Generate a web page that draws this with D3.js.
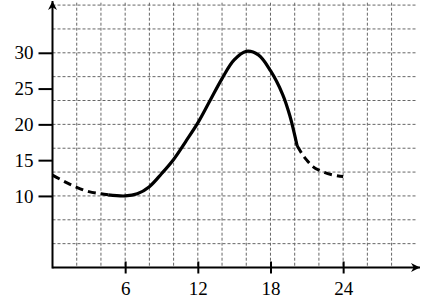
<!DOCTYPE html>
<meta charset="utf-8">
<script src="https://d3js.org/d3.v7.min.js"></script>
<style>
  body { margin: 0; background: #fff; }
</style>
<body>
<div id="chart"></div>
</body>
<script>
// curve pieces
var leftX  = [0, 1, 2, 3, 4, 4.6];
var leftY  = [12.9, 12.0, 11.2, 10.6, 10.3, 10.15];
var solidX = [4.6, 6, 7, 8, 9, 10, 11, 12, 13, 14, 15, 16, 17, 18, 19, 19.6, 20.2];
var solidY = [10.15, 10.0, 10.3, 11.3, 13.1, 15.1, 17.6, 20.2, 23.3, 26.4, 29.0, 30.2, 29.7, 27.5, 24.2, 21.2, 17.0];
var rightX = [20.2, 20.6, 21, 21.5, 22, 23, 24];
var rightY = [17.0, 15.9, 15.0, 14.1, 13.6, 13.0, 12.7];

var xTicks = [6, 12, 18, 24];
var yTicks = [10, 15, 20, 25, 30];

var width = 441, height = 297;
var serif = "'Liberation Serif', 'DejaVu Serif', serif";

var svg = d3.select("#chart").append("svg")
    .attr("width", width)
    .attr("height", height);

var x = d3.scaleLinear().domain([0, 30]).range([52.5, 415.8]);
var y = d3.scaleLinear().domain([0, 37]).range([267.5, 2.7]);

// grid: every 2 on x, every 10/3 on y (square cells)
var gx = d3.range(2, 29, 2);
var gy = d3.range(1, 12).map(function(k) { return k * 10 / 3; });

svg.append("g").selectAll("line")
    .data(gx).enter().append("line")
    .attr("x1", function(d) { return x(d); })
    .attr("x2", function(d) { return x(d); })
    .attr("y1", y(37)).attr("y2", y(0))
    .attr("stroke", "#666").attr("stroke-width", 1)
    .attr("stroke-dasharray", "3,2");

svg.append("g").selectAll("line")
    .data(gy).enter().append("line")
    .attr("x1", x(0)).attr("x2", x(30))
    .attr("y1", function(d) { return y(d); })
    .attr("y2", function(d) { return y(d); })
    .attr("stroke", "#666").attr("stroke-width", 1)
    .attr("stroke-dasharray", "3,2");

// arrow heads
svg.append("defs").append("marker")
    .attr("id", "arrow")
    .attr("viewBox", "0 0 10 10")
    .attr("refX", 10).attr("refY", 5)
    .attr("markerWidth", 9).attr("markerHeight", 9)
    .attr("markerUnits", "userSpaceOnUse")
    .attr("orient", "auto")
  .append("path")
    .attr("d", "M0,0 L10,5 L0,10 L3,5 Z")
    .attr("fill", "#000");

// axes lines
svg.append("line")
    .attr("x1", x(0)).attr("x2", 420)
    .attr("y1", y(0)).attr("y2", y(0))
    .attr("stroke", "#000").attr("stroke-width", 2)
    .attr("marker-end", "url(#arrow)");
svg.append("line")
    .attr("x1", x(0)).attr("x2", x(0))
    .attr("y1", y(0) + 1).attr("y2", 1)
    .attr("stroke", "#000").attr("stroke-width", 2)
    .attr("marker-end", "url(#arrow)");

// y ticks + labels
var yAxis = svg.append("g")
    .attr("transform", "translate(" + x(0) + ",0)")
    .call(d3.axisLeft(y).tickValues(yTicks).tickSize(14).tickPadding(5).tickSizeOuter(0));
yAxis.select(".domain").remove();
yAxis.selectAll("line").attr("stroke", "#000").attr("stroke-width", 2);
yAxis.selectAll("text")
    .style("font-size", "19px")
    .style("font-family", serif)
    .attr("fill", "#000");

// x ticks (crossing the axis) + labels
var xAxis = svg.append("g")
    .attr("transform", "translate(0," + y(0) + ")")
    .call(d3.axisBottom(x).tickValues(xTicks).tickSizeOuter(0));
xAxis.select(".domain").remove();
xAxis.selectAll("line")
    .attr("y1", -6).attr("y2", 6)
    .attr("stroke", "#000").attr("stroke-width", 2);
xAxis.selectAll("text")
    .attr("y", 27).attr("dy", 0)
    .style("font-size", "19px")
    .style("font-family", serif)
    .attr("fill", "#000");

// the curve
var line = d3.line()
    .x(function(d) { return x(d[0]); })
    .y(function(d) { return y(d[1]); })
    .curve(d3.curveCatmullRom.alpha(0.5));

function pts(xs, ys) { return xs.map(function(v, i) { return [v, ys[i]]; }); }

svg.append("path")
    .datum(pts(leftX, leftY))
    .attr("d", line)
    .attr("fill", "none").attr("stroke", "#000")
    .attr("stroke-width", 3).attr("stroke-dasharray", "8,5");

svg.append("path")
    .datum(pts(solidX, solidY))
    .attr("d", line)
    .attr("fill", "none").attr("stroke", "#000")
    .attr("stroke-width", 3.2);

svg.append("path")
    .datum(pts(rightX, rightY))
    .attr("d", line)
    .attr("fill", "none").attr("stroke", "#000")
    .attr("stroke-width", 3).attr("stroke-dasharray", "8,5");
</script>
